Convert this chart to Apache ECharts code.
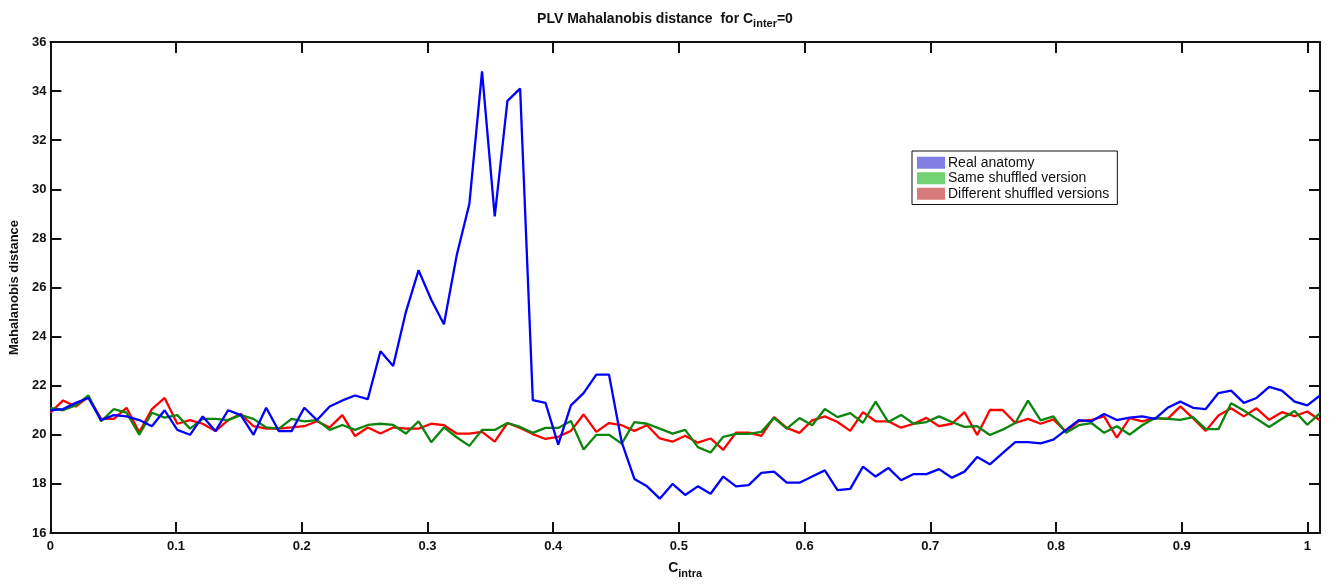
<!DOCTYPE html>
<html>
<head>
<meta charset="utf-8">
<script src="https://cdn.jsdelivr.net/npm/echarts@6/dist/echarts.min.js"></script>
<style>
  html, body { margin: 0; padding: 0; background: #fff; }
  #chart { width: 1330px; height: 584px; }
</style>
</head>
<body>
<div id="chart"></div>
<script>
// sampling grid step (linspace 0..1.01, 101 points)
const C_STEP = 0.0101

// Real anatomy
const realAnatomy = [
  21.0, 21.05, 21.3, 21.5, 20.6, 20.8, 20.75, 20.6, 20.35, 21.0,
  20.2, 20.0, 20.75, 20.15, 21.0, 20.8, 20.0, 21.1, 20.15, 20.15,
  21.1, 20.6, 21.15, 21.4, 21.6, 21.45, 23.4, 22.8, 25.0, 26.7,
  25.5, 24.5, 27.3, 29.4, 34.8, 28.9, 33.6, 34.1, 21.41, 21.3,
  19.6, 21.2, 21.7, 22.45, 22.45, 19.7, 18.2, 17.9, 17.4, 18.0,
  17.55, 17.9, 17.6, 18.3, 17.9, 17.95, 18.45, 18.5, 18.05, 18.05,
  18.3, 18.55, 17.75, 17.8, 18.7, 18.3, 18.65, 18.15, 18.4, 18.4,
  18.6, 18.25, 18.5, 19.1, 18.8, 19.25, 19.7, 19.7, 19.65, 19.8,
  20.2, 20.6, 20.55, 20.85, 20.6, 20.7, 20.75, 20.65, 21.1, 21.35,
  21.1, 21.05, 21.7, 21.8, 21.3, 21.5, 21.95, 21.8, 21.35, 21.2,
  21.6
]

// Same shuffled version
const sameShuffled = [
  21.1, 21.0, 21.2, 21.6, 20.55, 21.05, 20.9, 20.0, 20.9, 20.7,
  20.8, 20.25, 20.65, 20.65, 20.6, 20.8, 20.65, 20.3, 20.25, 20.65,
  20.55, 20.6, 20.2, 20.4, 20.2, 20.4, 20.45, 20.4, 20.05, 20.55,
  19.7, 20.3, 19.9, 19.55, 20.2, 20.2, 20.48, 20.32, 20.08, 20.28,
  20.28, 20.56, 19.4, 20.0, 20.0, 19.64, 20.52, 20.45, 20.25, 20.05,
  20.2, 19.5, 19.28, 19.92, 20.04, 20.04, 20.12, 20.69, 20.25, 20.68,
  20.39, 21.05, 20.72, 20.88, 20.49, 21.35, 20.52, 20.81, 20.45, 20.52,
  20.75, 20.52, 20.32, 20.35, 19.99, 20.21, 20.48, 21.39, 20.59, 20.75,
  20.08, 20.39, 20.48, 20.08, 20.35, 20.01, 20.39, 20.68, 20.65, 20.61,
  20.72, 20.23, 20.23, 21.29, 20.99, 20.65, 20.32, 20.65, 20.97, 20.41,
  20.88
]

// Different shuffled versions
const diffShuffled = [
  20.9, 21.4, 21.15, 21.55, 20.65, 20.65, 21.1, 20.1, 21.05, 21.5,
  20.45, 20.6, 20.45, 20.15, 20.6, 20.85, 20.35, 20.25, 20.25, 20.3,
  20.35, 20.55, 20.3, 20.8, 19.95, 20.3, 20.05, 20.3, 20.25, 20.25,
  20.45, 20.39, 20.05, 20.05, 20.12, 19.72, 20.48, 20.28, 20.03, 19.83,
  19.92, 20.16, 20.83, 20.12, 20.48, 20.39, 20.16, 20.39, 19.85, 19.72,
  19.96, 19.68, 19.85, 19.39, 20.09, 20.09, 19.96, 20.72, 20.28, 20.08,
  20.59, 20.75, 20.52, 20.16, 20.92, 20.55, 20.55, 20.29, 20.45, 20.69,
  20.35, 20.45, 20.92, 19.99, 21.01, 21.01, 20.48, 20.65, 20.45, 20.63,
  20.12, 20.56, 20.61, 20.75, 19.88, 20.68, 20.55, 20.68, 20.65, 21.16,
  20.68, 20.16, 20.79, 21.08, 20.75, 21.08, 20.61, 20.92, 20.76, 20.95,
  20.59
]

const seriesNames = ['Real anatomy', 'Same shuffled version', 'Different shuffled versions']
const lineColors = ['#0000ff', '#0b850b', '#ff0000']
const patchColors = ['#7f7fe6', '#72d272', '#d87b7b']
const yTicks = [16, 36, 2]   // min, max, step
const xTicks = [0, 1.01, 0.1]

const font = '"Liberation Sans", Arial, Helvetica, sans-serif'

const toPairs = arr => arr.map((v, i) => [+(i * C_STEP).toFixed(4), v])

const chart = echarts.init(document.getElementById('chart'))

// 坐标轴公共样式 (MATLAB 风格: 刻度朝内, 四周闭合)
const axisCommon = {
  axisLine: { show: true, onZero: false, lineStyle: { color: '#111', width: 2 } },
  axisTick: { show: true, inside: true, length: 11, lineStyle: { color: '#111', width: 2 } },
  splitLine: { show: false }
}
const labelStyle = { color: '#111', fontFamily: font, fontWeight: 'bold', fontSize: 13 }

const option = {
  animation: false,
  backgroundColor: '#fff',
  title: {
    text: '{t|PLV Mahalanobis distance  for C}{s|inter}{t|=0}',
    left: 'center',
    top: 5,
    textStyle: {
      rich: {
        t: { fontFamily: font, fontWeight: 'bold', fontSize: 14, color: '#111' },
        s: { fontFamily: font, fontWeight: 'bold', fontSize: 11, color: '#111', padding: [8, 0, 0, 0] }
      }
    }
  },
  legend: {
    orient: 'vertical',
    left: 912,
    top: 151,
    padding: [4, 8, 3, 5],
    itemGap: 0,
    itemWidth: 28,
    itemHeight: 12,
    borderColor: '#111',
    borderWidth: 1,
    borderRadius: 0,
    backgroundColor: '#fff',
    textStyle: { fontFamily: font, fontSize: 14, lineHeight: 15.5, color: '#111', padding: [0, 0, 0, -2] },
    data: seriesNames.map((n, i) => ({
      name: n,
      icon: 'rect',
      itemStyle: { color: patchColors[i], borderWidth: 0 }
    }))
  },
  grid: { left: 48, right: 10, top: 42, bottom: 45, containLabel: false },
  xAxis: [
    {
      ...axisCommon,
      type: 'value',
      min: xTicks[0], max: xTicks[1], interval: xTicks[2],
      position: 'bottom',
      axisLabel: { ...labelStyle, margin: 7, showMaxLabel: false },
      name: '{c|C}{s|intra}',
      nameLocation: 'middle',
      nameGap: 25,
      nameTextStyle: {
        rich: {
          c: { fontFamily: font, fontWeight: 'bold', fontSize: 14, color: '#111' },
          s: { fontFamily: font, fontWeight: 'bold', fontSize: 11, color: '#111', padding: [10, 0, 0, 0] }
        }
      }
    },
    {
      ...axisCommon,
      type: 'value',
      min: xTicks[0], max: xTicks[1], interval: xTicks[2],
      position: 'top',
      axisLabel: { show: false }
    }
  ],
  yAxis: [
    {
      ...axisCommon,
      type: 'value',
      min: yTicks[0], max: yTicks[1], interval: yTicks[2],
      position: 'left',
      axisLabel: { ...labelStyle, margin: 4 },
      name: 'Mahalanobis distance',
      nameLocation: 'middle',
      nameGap: 28,
      nameTextStyle: { fontFamily: font, fontWeight: 'bold', fontSize: 13, color: '#111' }
    },
    {
      ...axisCommon,
      type: 'value',
      min: yTicks[0], max: yTicks[1], interval: yTicks[2],
      position: 'right',
      axisLabel: { show: false }
    }
  ],
  series: [realAnatomy, sameShuffled, diffShuffled].map((arr, i) => ({
    name: seriesNames[i],
    type: 'line',
    xAxisIndex: 0,
    yAxisIndex: 0,
    data: toPairs(arr),
    showSymbol: false,
    symbol: 'none',
    lineStyle: { color: lineColors[i], width: 2.3 },
    itemStyle: { color: lineColors[i] },
    z: 3 - i
  }))
}

chart.setOption(option)
</script>
</body>
</html>
